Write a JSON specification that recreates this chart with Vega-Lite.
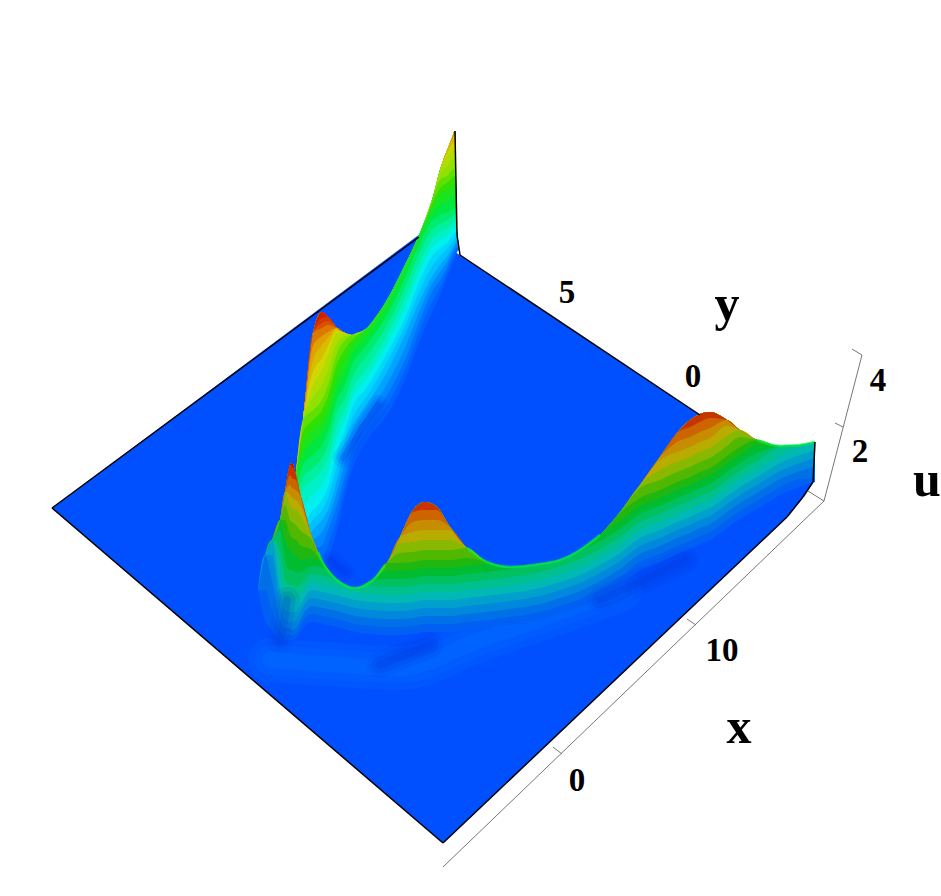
{"$schema":"https://vega.github.io/schema/vega-lite/v6.json","autosize":{"type":"fit","contains":"padding"},"width":941,"height":896,"padding":0,"background":"white","view":{"stroke":null},"resolve":{"scale":{"color":"independent"}},
"datasets":{
"plane":[{"x":52,"t":508,"b":508},{"x":424,"t":231,"b":827},{"x":443,"t":244,"b":843},{"x":700,"t":415,"b":599},{"x":787,"t":473,"b":517},{"x":803,"t":484,"b":497},{"x":813,"t":482,"b":482}],
"sheetB":[
{"x":296,"yc":472,"a":600,"b":590,"c":580,"d":570,"e":560,"f":550,"g":540,"h":525,"i":510,"j":500,"k":490,"l":481,"m":472,"n":472,"o":472,"p":472,"q":472,"r":472,"s":472,"t":472,"u":472,"v":472,"w":472},
{"x":303,"yc":420,"a":590,"b":578,"c":565,"d":555,"e":545,"f":535,"g":525,"h":508,"i":490,"j":478,"k":465,"l":455,"m":445,"n":432,"o":420,"p":420,"q":420,"r":420,"s":420,"t":420,"u":420,"v":420,"w":420},
{"x":313,"yc":333,"a":575,"b":562,"c":550,"d":540,"e":530,"f":520,"g":510,"h":495,"i":480,"j":468,"k":455,"l":442,"m":430,"n":420,"o":410,"p":398,"q":385,"r":372,"s":360,"t":346,"u":333,"v":333,"w":333},
{"x":322,"yc":312,"a":570,"b":558,"c":545,"d":532,"e":520,"f":510,"g":500,"h":485,"i":470,"j":458,"k":445,"l":432,"m":420,"n":410,"o":400,"p":385,"q":370,"r":358,"s":345,"t":336,"u":328,"v":323,"w":318},
{"x":328,"yc":317,"a":560,"b":545,"c":530,"d":520,"e":510,"f":498,"g":487,"h":472,"i":458,"j":445,"k":432,"l":420,"m":408,"n":396,"o":385,"p":370,"q":355,"r":346,"s":338,"t":332,"u":325,"v":321,"w":317},
{"x":337,"yc":328,"a":530,"b":518,"c":505,"d":492,"e":480,"f":466,"g":452,"h":438,"i":425,"j":412,"k":400,"l":388,"m":375,"n":364,"o":353,"p":343,"q":333,"r":330,"s":328,"t":328,"u":328,"v":328,"w":328},
{"x":345,"yc":333,"a":495,"b":485,"c":475,"d":462,"e":450,"f":440,"g":430,"h":420,"i":410,"j":398,"k":385,"l":372,"m":358,"n":349,"o":340,"p":336,"q":333,"r":333,"s":333,"t":333,"u":333,"v":333,"w":333},
{"x":352,"yc":335,"a":470,"b":460,"c":450,"d":440,"e":430,"f":419,"g":408,"h":399,"i":390,"j":378,"k":365,"l":355,"m":345,"n":340,"o":335,"p":335,"q":335,"r":335,"s":335,"t":335,"u":335,"v":335,"w":335},
{"x":367,"yc":328,"a":440,"b":432,"c":425,"d":415,"e":405,"f":396,"g":387,"h":378,"i":368,"j":356,"k":345,"l":336,"m":328,"n":328,"o":328,"p":328,"q":328,"r":328,"s":328,"t":328,"u":328,"v":328,"w":328},
{"x":387,"yc":300,"a":415,"b":405,"c":395,"d":384,"e":372,"f":362,"g":353,"h":344,"i":335,"j":325,"k":315,"l":308,"m":300,"n":300,"o":300,"p":300,"q":300,"r":300,"s":300,"t":300,"u":300,"v":300,"w":300},
{"x":405,"yc":265,"a":380,"b":370,"c":360,"d":348,"e":335,"f":326,"g":318,"h":308,"i":298,"j":288,"k":278,"l":272,"m":265,"n":265,"o":265,"p":265,"q":265,"r":265,"s":265,"t":265,"u":265,"v":265,"w":265},
{"x":420,"yc":233,"a":340,"b":330,"c":320,"d":310,"e":300,"f":290,"g":280,"h":271,"i":262,"j":252,"k":243,"l":238,"m":233,"n":233,"o":233,"p":233,"q":233,"r":233,"s":233,"t":233,"u":233,"v":233,"w":233},
{"x":433,"yc":197,"a":310,"b":300,"c":290,"d":282,"e":275,"f":265,"g":255,"h":246,"i":238,"j":229,"k":220,"l":212,"m":205,"n":201,"o":197,"p":197,"q":197,"r":197,"s":197,"t":197,"u":197,"v":197,"w":197},
{"x":440,"yc":170,"a":295,"b":288,"c":280,"d":272,"e":265,"f":256,"g":248,"h":240,"i":232,"j":224,"k":215,"l":205,"m":195,"n":188,"o":180,"p":175,"q":170,"r":170,"s":170,"t":170,"u":170,"v":170,"w":170},
{"x":448,"yc":148,"a":275,"b":270,"c":265,"d":260,"e":255,"f":248,"g":242,"h":235,"i":228,"j":220,"k":212,"l":201,"m":190,"n":182,"o":175,"p":165,"q":155,"r":152,"s":148,"t":148,"u":148,"v":148,"w":148},
{"x":452,"yc":138,"a":265,"b":260,"c":255,"d":252,"e":248,"f":242,"g":236,"h":230,"i":224,"j":217,"k":210,"l":198,"m":187,"n":178,"o":170,"p":160,"q":150,"r":145,"s":140,"t":139,"u":138,"v":138,"w":138},
{"x":455,"yc":131,"a":257,"b":254,"c":250,"d":246,"e":243,"f":238,"g":233,"h":228,"i":222,"j":215,"k":208,"l":196,"m":185,"n":176,"o":168,"p":158,"q":148,"r":142,"s":135,"t":133,"u":131,"v":131,"w":131},
{"x":457,"yc":230,"a":252,"b":250,"c":247,"d":244,"e":240,"f":236,"g":232,"h":231,"i":230,"j":230,"k":230,"l":230,"m":230,"n":230,"o":230,"p":230,"q":230,"r":230,"s":230,"t":230,"u":230,"v":230,"w":230},
{"x":459,"yc":250,"a":250,"b":250,"c":250,"d":250,"e":250,"f":250,"g":250,"h":250,"i":250,"j":250,"k":250,"l":250,"m":250,"n":250,"o":250,"p":250,"q":250,"r":250,"s":250,"t":250,"u":250,"v":250,"w":250}
],
"sheetA":[
{"x":258,"yc":590,"a":590,"b":590,"c":590,"d":590,"e":590,"f":590,"g":590,"h":590,"i":590,"j":590,"k":590,"l":590,"m":590,"n":590,"o":590,"p":590},
{"x":265,"yc":555,"a":620,"b":590,"c":555,"d":555,"e":555,"f":555,"g":555,"h":555,"i":555,"j":555,"k":555,"l":555,"m":555,"n":555,"o":555,"p":555},
{"x":272,"yc":540,"a":630,"b":610,"c":580,"d":555,"e":540,"f":540,"g":540,"h":540,"i":540,"j":540,"k":540,"l":540,"m":540,"n":540,"o":540,"p":540},
{"x":280,"yc":520,"a":640,"b":632,"c":620,"d":605,"e":590,"f":570,"g":550,"h":530,"i":520,"j":520,"k":520,"l":520,"m":520,"n":520,"o":520,"p":520},
{"x":285,"yc":492,"a":640,"b":635,"c":628,"d":620,"e":610,"f":597,"g":580,"h":560,"i":540,"j":520,"k":505,"l":492,"m":492,"n":492,"o":492,"p":492},
{"x":290,"yc":465,"a":640,"b":635,"c":628,"d":622,"e":612,"f":600,"g":585,"h":570,"i":550,"j":535,"k":520,"l":505,"m":495,"n":485,"o":475,"p":465},
{"x":292,"yc":463,"a":640,"b":636,"c":630,"d":622,"e":612,"f":600,"g":585,"h":570,"i":552,"j":538,"k":522,"l":508,"m":498,"n":488,"o":478,"p":466},
{"x":296,"yc":475,"a":638,"b":633,"c":628,"d":620,"e":612,"f":600,"g":587,"h":572,"i":555,"j":540,"k":525,"l":510,"m":500,"n":490,"o":480,"p":475},
{"x":300,"yc":493,"a":632,"b":625,"c":620,"d":612,"e":605,"f":595,"g":585,"h":572,"i":560,"j":545,"k":530,"l":515,"m":505,"n":495,"o":493,"p":493},
{"x":312,"yc":537,"a":622,"b":614,"c":606,"d":598,"e":590,"f":582,"g":574,"h":566,"i":558,"j":550,"k":540,"l":537,"m":537,"n":537,"o":537,"p":537},
{"x":323,"yc":563,"a":624,"b":616,"c":608,"d":600,"e":592,"f":584,"g":576,"h":568,"i":563,"j":563,"k":563,"l":563,"m":563,"n":563,"o":563,"p":563},
{"x":337,"yc":580,"a":627,"b":619,"c":611,"d":603,"e":595,"f":587,"g":580,"h":580,"i":580,"j":580,"k":580,"l":580,"m":580,"n":580,"o":580,"p":580},
{"x":355,"yc":588,"a":632,"b":624,"c":616,"d":608,"e":600,"f":592,"g":588,"h":588,"i":588,"j":588,"k":588,"l":588,"m":588,"n":588,"o":588,"p":588},
{"x":373,"yc":580,"a":634,"b":626,"c":618,"d":610,"e":602,"f":594,"g":586,"h":580,"i":580,"j":580,"k":580,"l":580,"m":580,"n":580,"o":580,"p":580},
{"x":387,"yc":563,"a":635,"b":627,"c":619,"d":611,"e":603,"f":595,"g":587,"h":579,"i":571,"j":563,"k":563,"l":563,"m":563,"n":563,"o":563,"p":563},
{"x":400,"yc":537,"a":635,"b":627,"c":619,"d":611,"e":603,"f":595,"g":587,"h":579,"i":571,"j":563,"k":553,"l":543,"m":537,"n":537,"o":537,"p":537},
{"x":413,"yc":510,"a":634,"b":626,"c":618,"d":610,"e":602,"f":594,"g":586,"h":578,"i":570,"j":562,"k":552,"l":542,"m":532,"n":522,"o":512,"p":510},
{"x":425,"yc":502,"a":632,"b":624,"c":616,"d":608,"e":600,"f":592,"g":584,"h":576,"i":568,"j":560,"k":550,"l":540,"m":530,"n":520,"o":510,"p":502},
{"x":437,"yc":507,"a":632,"b":624,"c":616,"d":608,"e":600,"f":592,"g":584,"h":576,"i":568,"j":560,"k":550,"l":540,"m":530,"n":520,"o":510,"p":507},
{"x":450,"yc":527,"a":632,"b":624,"c":616,"d":608,"e":600,"f":592,"g":584,"h":576,"i":568,"j":560,"k":550,"l":540,"m":530,"n":527,"o":527,"p":527},
{"x":467,"yc":548,"a":630,"b":622,"c":614,"d":606,"e":598,"f":590,"g":582,"h":574,"i":566,"j":558,"k":548,"l":548,"m":548,"n":548,"o":548,"p":548},
{"x":487,"yc":562,"a":628,"b":620,"c":612,"d":604,"e":596,"f":588,"g":580,"h":572,"i":564,"j":562,"k":562,"l":562,"m":562,"n":562,"o":562,"p":562},
{"x":510,"yc":567,"a":625,"b":617,"c":609,"d":601,"e":593,"f":585,"g":577,"h":569,"i":567,"j":567,"k":567,"l":567,"m":567,"n":567,"o":567,"p":567},
{"x":540,"yc":564,"a":620,"b":612,"c":604,"d":596,"e":588,"f":580,"g":572,"h":564,"i":564,"j":564,"k":564,"l":564,"m":564,"n":564,"o":564,"p":564},
{"x":560,"yc":560,"a":614,"b":606,"c":598,"d":590,"e":582,"f":574,"g":566,"h":560,"i":560,"j":560,"k":560,"l":560,"m":560,"n":560,"o":560,"p":560},
{"x":580,"yc":550,"a":607,"b":599,"c":591,"d":583,"e":575,"f":567,"g":559,"h":551,"i":550,"j":550,"k":550,"l":550,"m":550,"n":550,"o":550,"p":550},
{"x":600,"yc":535,"a":597,"b":589,"c":581,"d":573,"e":565,"f":557,"g":549,"h":541,"i":535,"j":535,"k":535,"l":535,"m":535,"n":535,"o":535,"p":535},
{"x":620,"yc":512,"a":585,"b":577,"c":569,"d":561,"e":553,"f":545,"g":537,"h":529,"i":521,"j":513,"k":512,"l":512,"m":512,"n":512,"o":512,"p":512},
{"x":640,"yc":485,"a":570,"b":562,"c":554,"d":546,"e":538,"f":530,"g":522,"h":514,"i":506,"j":498,"k":488,"l":485,"m":485,"n":485,"o":485,"p":485},
{"x":660,"yc":457,"a":562,"b":554,"c":546,"d":538,"e":530,"f":522,"g":514,"h":506,"i":498,"j":490,"k":480,"l":470,"m":460,"n":457,"o":457,"p":457},
{"x":677,"yc":433,"a":554,"b":546,"c":538,"d":530,"e":522,"f":514,"g":506,"h":498,"i":490,"j":482,"k":472,"l":462,"m":452,"n":442,"o":433,"p":433},
{"x":690,"yc":420,"a":549,"b":541,"c":533,"d":525,"e":517,"f":509,"g":501,"h":493,"i":485,"j":477,"k":467,"l":457,"m":447,"n":437,"o":427,"p":420},
{"x":700,"yc":414,"a":544,"b":536,"c":528,"d":520,"e":512,"f":504,"g":496,"h":488,"i":480,"j":472,"k":462,"l":452,"m":442,"n":432,"o":422,"p":414},
{"x":710,"yc":412,"a":540,"b":532,"c":524,"d":516,"e":508,"f":500,"g":492,"h":484,"i":476,"j":468,"k":458,"l":448,"m":438,"n":428,"o":418,"p":412},
{"x":727,"yc":420,"a":528,"b":520,"c":512,"d":504,"e":496,"f":488,"g":480,"h":472,"i":464,"j":456,"k":446,"l":436,"m":426,"n":420,"o":420,"p":420},
{"x":740,"yc":430,"a":519,"b":511,"c":503,"d":495,"e":487,"f":479,"g":471,"h":463,"i":455,"j":447,"k":437,"l":430,"m":430,"n":430,"o":430,"p":430},
{"x":757,"yc":440,"a":509,"b":501,"c":493,"d":485,"e":477,"f":469,"g":461,"h":453,"i":445,"j":440,"k":440,"l":440,"m":440,"n":440,"o":440,"p":440},
{"x":780,"yc":446,"a":495,"b":487,"c":479,"d":471,"e":463,"f":455,"g":447,"h":446,"i":446,"j":446,"k":446,"l":446,"m":446,"n":446,"o":446,"p":446},
{"x":800,"yc":445,"a":487,"b":479,"c":471,"d":463,"e":455,"f":447,"g":445,"h":445,"i":445,"j":445,"k":445,"l":445,"m":445,"n":445,"o":445,"p":445},
{"x":815,"yc":442,"a":482,"b":478,"c":466,"d":458,"e":450,"f":442,"g":442,"h":442,"i":442,"j":442,"k":442,"l":442,"m":442,"n":442,"o":442,"p":442}
],
"soft":[
{"id":"halo","x":270,"y":660},{"id":"halo","x":340,"y":665},{"id":"halo","x":400,"y":668},{"id":"halo","x":480,"y":640},{"id":"halo","x":560,"y":612},{"id":"halo","x":620,"y":590},
{"id":"d1","x":343,"y":458},{"id":"d1","x":355,"y":440},{"id":"d1","x":362,"y":428},{"id":"d1","x":378,"y":405},
{"id":"d2","x":280,"y":640},{"id":"d2","x":284,"y":622},{"id":"d2","x":287,"y":600},
{"id":"d3","x":380,"y":665},{"id":"d3","x":405,"y":655},{"id":"d3","x":430,"y":645},
{"id":"d4","x":600,"y":600},{"id":"d4","x":650,"y":577},{"id":"d4","x":685,"y":560},
{"id":"d5","x":330,"y":560},{"id":"d5","x":345,"y":572}
],
"rim":[
{"id":"a","x":318,"y":552},{"id":"a","x":323,"y":563},{"id":"a","x":337,"y":580},{"id":"a","x":355,"y":588},{"id":"a","x":373,"y":580},{"id":"a","x":385,"y":566},
{"id":"b","x":467,"y":548},{"id":"b","x":487,"y":562},{"id":"b","x":510,"y":567},{"id":"b","x":540,"y":564},{"id":"b","x":560,"y":560},{"id":"b","x":580,"y":550},{"id":"b","x":600,"y":535},
{"id":"c","x":757,"y":440},{"id":"c","x":780,"y":446},{"id":"c","x":800,"y":445},{"id":"c","x":815,"y":442}
],
"edges":[
{"k":"plane","x":52,"y":508,"x2":419,"y2":237},{"k":"plane","x":460,"y":255,"x2":700,"y2":415},{"k":"plane","x":52,"y":508,"x2":443,"y2":843},{"k":"plane","x":443,"y":843,"x2":787,"y2":517},{"k":"plane","x":787,"y":517,"x2":803,"y2":497},{"k":"plane","x":803,"y":497,"x2":813,"y2":482},{"k":"plane","x":813,"y":482,"x2":815,"y2":442},{"k":"plane","x":455,"y":131,"x2":457,"y2":235},{"k":"plane","x":457,"y":235,"x2":460,"y2":255},
{"k":"axis","x":443,"y":867,"x2":824,"y2":501},{"k":"axis","x":824,"y":501,"x2":862,"y2":355},{"k":"axis","x":862,"y":355,"x2":852,"y2":349},{"k":"axis","x":843,"y":427,"x2":835,"y2":423},{"k":"axis","x":824,"y":501,"x2":808,"y2":491},{"k":"axis","x":562,"y":754,"x2":553,"y2":747},{"k":"axis","x":696,"y":625,"x2":687,"y2":619}
],
"labels":[
{"k":"tick","t":"0","x":577,"y":781},{"k":"tick","t":"10","x":722,"y":651},{"k":"tick","t":"2","x":860,"y":452},{"k":"tick","t":"4","x":878,"y":381},{"k":"tick","t":"5","x":567,"y":293},{"k":"tick","t":"0","x":693,"y":377},
{"k":"title","t":"x","x":739,"y":728},{"k":"title","t":"y","x":727,"y":305},{"k":"title","t":"u","x":927,"y":481}
]
},
"encoding":{"x":{"field":"x","type":"quantitative","scale":{"domain":[0,941]},"axis":null},"y":{"field":"y","type":"quantitative","scale":{"domain":[896,0]},"axis":null}},
"layer":[
{"data":{"name":"plane"},"mark":{"type":"area","orient":"vertical","fill":"#0050ff"},"encoding":{"y":{"field":"t","type":"quantitative","scale":{"domain":[896,0]},"axis":null},"y2":{"field":"b"}}},
{"data":{"name":"soft"},"transform":[{"filter":"datum.id=='halo'"}],"mark":{"type":"line","stroke":"#0080ff","strokeWidth":44,"opacity":0.12,"interpolate":"monotone","strokeCap":"round"},"encoding":{"detail":{"field":"id"}}},
{"data":{"name":"soft"},"transform":[{"filter":"datum.id=='halo'"}],"mark":{"type":"line","stroke":"#0080ff","strokeWidth":30,"opacity":0.15,"interpolate":"monotone","strokeCap":"round"},"encoding":{"detail":{"field":"id"}}},
{"data":{"name":"soft"},"transform":[{"filter":"datum.id=='halo'"}],"mark":{"type":"line","stroke":"#0080ff","strokeWidth":16,"opacity":0.18,"interpolate":"monotone","strokeCap":"round"},"encoding":{"detail":{"field":"id"}}},
{"data":{"name":"sheetB"},"transform":[{"fold":["a","b","c","d","e","f","g","h","i","j","k","l","m","n","o","p","q","r","s","t","u","v","w"],"as":["lev","v"]}],"mark":{"type":"area","orient":"vertical","interpolate":"monotone"},
"encoding":{"y":{"field":"v","type":"quantitative","scale":{"domain":[896,0]},"axis":null},"y2":{"field":"yc"},"color":{"field":"lev","type":"nominal","legend":null,"scale":{"domain":["a","b","c","d","e","f","g","h","i","j","k","l","m","n","o","p","q","r","s","t","u","v","w"],"range":["#0060ff","#0070ff","#0088ff","#00a4ff","#00c0ff","#00d8fa","#00f0f0","#00f0c8","#00f0a0","#00ec70","#00e840","#18e420","#30e000","#60e000","#90e000","#b0dc00","#d0d800","#d8bc00","#e0a000","#dc7800","#d85000","#d43800","#d02000"]}}}},
{"data":{"name":"soft"},"transform":[{"filter":"datum.id=='d1'||datum.id=='d5'"}],"mark":{"type":"line","stroke":"#0030e8","strokeWidth":20,"opacity":0.12,"strokeCap":"round"},"encoding":{"detail":{"field":"id"}}},
{"data":{"name":"soft"},"transform":[{"filter":"datum.id=='d1'||datum.id=='d5'"}],"mark":{"type":"line","stroke":"#0030e8","strokeWidth":13,"opacity":0.15,"strokeCap":"round"},"encoding":{"detail":{"field":"id"}}},
{"data":{"name":"soft"},"transform":[{"filter":"datum.id=='d1'||datum.id=='d5'"}],"mark":{"type":"line","stroke":"#0030e8","strokeWidth":6,"opacity":0.25,"strokeCap":"round"},"encoding":{"detail":{"field":"id"}}},
{"data":{"name":"sheetA"},"transform":[{"fold":["a","b","c","d","e","f","g","h","i","j","k","l","m","n","o","p"],"as":["lev","v"]}],"mark":{"type":"area","orient":"vertical","interpolate":"monotone"},
"encoding":{"y":{"field":"v","type":"quantitative","scale":{"domain":[896,0]},"axis":null},"y2":{"field":"yc"},"color":{"field":"lev","type":"nominal","legend":null,"scale":{"domain":["a","b","c","d","e","f","g","h","i","j","k","l","m","n","o","p"],"range":["#0060f4","#0070e8","#0088dc","#00a0cc","#00b8b4","#00c090","#00c060","#00bc30","#20b810","#50b800","#88b800","#b8ac00","#c88c00","#cc6400","#c83400","#c01000"]}}}},
{"data":{"name":"rim"},"mark":{"type":"line","stroke":"#00f040","strokeWidth":2.5,"opacity":0.7,"interpolate":"monotone"},"encoding":{"detail":{"field":"id"}}},
{"data":{"name":"soft"},"transform":[{"filter":"datum.id=='d2'||datum.id=='d3'||datum.id=='d4'"}],"mark":{"type":"line","stroke":"#0030d8","strokeWidth":26,"opacity":0.1,"strokeCap":"round","interpolate":"monotone"},"encoding":{"detail":{"field":"id"}}},
{"data":{"name":"soft"},"transform":[{"filter":"datum.id=='d2'||datum.id=='d3'||datum.id=='d4'"}],"mark":{"type":"line","stroke":"#0030d8","strokeWidth":17,"opacity":0.14,"strokeCap":"round","interpolate":"monotone"},"encoding":{"detail":{"field":"id"}}},
{"data":{"name":"soft"},"transform":[{"filter":"datum.id=='d2'||datum.id=='d3'||datum.id=='d4'"}],"mark":{"type":"line","stroke":"#0030d8","strokeWidth":8,"opacity":0.2,"strokeCap":"round","interpolate":"monotone"},"encoding":{"detail":{"field":"id"}}},
{"data":{"name":"edges"},"transform":[{"filter":"datum.k=='plane'"}],"mark":{"type":"rule","stroke":"#000000","strokeWidth":1.5},"encoding":{"x2":{"field":"x2"},"y2":{"field":"y2"}}},
{"data":{"name":"edges"},"transform":[{"filter":"datum.k=='axis'"}],"mark":{"type":"rule","stroke":"#777777","strokeWidth":1},"encoding":{"x2":{"field":"x2"},"y2":{"field":"y2"}}},
{"data":{"name":"labels"},"transform":[{"filter":"datum.k=='tick'"}],"mark":{"type":"text","font":"Liberation Serif","fontWeight":"bold","fontSize":33,"align":"center","baseline":"middle","fill":"#000000"},"encoding":{"text":{"field":"t"}}},
{"data":{"name":"labels"},"transform":[{"filter":"datum.k=='title'"}],"mark":{"type":"text","font":"Liberation Serif","fontWeight":"bold","fontSize":50,"align":"center","baseline":"middle","fill":"#000000"},"encoding":{"text":{"field":"t"}}}
]}
